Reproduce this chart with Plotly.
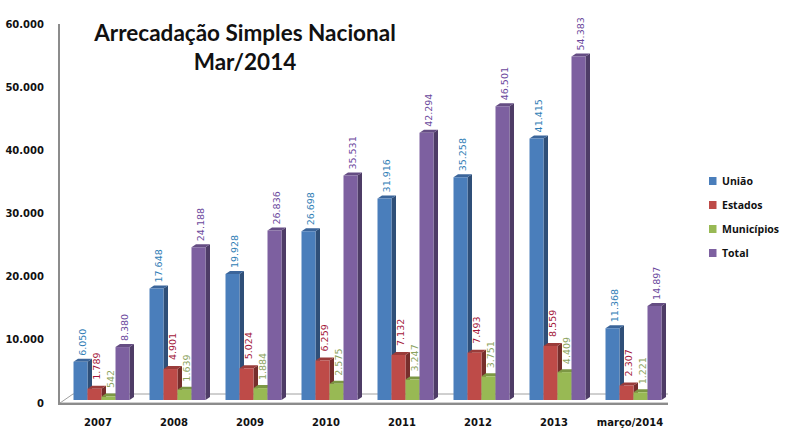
import plotly.graph_objects as go

categories = ["2007", "2008", "2009", "2010", "2011", "2012", "2013", "março/2014"]
uniao = [6050, 17648, 19928, 26698, 31916, 35258, 41415, 11368]
estados = [1789, 4901, 5024, 6259, 7132, 7493, 8559, 2307]
municipios = [542, 1639, 1884, 2575, 3247, 3751, 4409, 1221]
total = [8380, 24188, 26836, 35531, 42294, 46501, 54383, 14897]

series = [
    ("União", uniao, "#4A7EBB", "#3B659A", "#2F4F78", "#2F7DB5", 2),
    ("Estados", estados, "#BE4B48", "#9A3C3A", "#762E2C", "#A3173A", 5),
    ("Municípios", municipios, "#98B954", "#7C9744", "#5F7534", "#8CA35E", 4),
    ("Total", total, "#7D60A0", "#654D83", "#4E3C66", "#6A479C", 2),
]

PX_X = 76.0           # pixels per category
PX_Y = 379 / 60000    # pixels per value unit
BAR = 14 / PX_X
SHIFT_X = 3.5 / PX_X
LIFT = 3 / PX_Y
DX = 4.5 / PX_X
DY = 3 / PX_Y

fig = go.Figure()
shapes = []
annotations = []

# floor
fdx, fdy = 13 / PX_X, 9 / PX_Y
shapes.append(dict(type="path", layer="below", xref="x", yref="y",
                   path=f"M -0.5 0 L 7.5 0 L {7.5+fdx} {fdy} L {-0.5+fdx} {fdy} Z",
                   fillcolor="#FFFFFF", line=dict(color="#A0A0A0", width=1)))

for s, (name, vals, front, top, side, lab, gap) in enumerate(series):
    fig.add_trace(go.Bar(
        x=[i + SHIFT_X for i in range(len(categories))], y=vals, base=LIFT, name=name,
        width=BAR, offset=(s - 2) * BAR, marker=dict(color=front, line=dict(width=0)),
        showlegend=False,
    ))
    for i, v in enumerate(vals):
        x0 = i + SHIFT_X + (s - 2) * BAR
        x1 = x0 + BAR
        yb = LIFT
        yt = v + LIFT
        shapes.append(dict(type="path", layer="below", xref="x", yref="y",
                           path=f"M {x1} {yb} L {x1+DX} {yb+DY} L {x1+DX} {yt+DY} L {x1} {yt} Z",
                           fillcolor=side, line=dict(width=0)))
        shapes.append(dict(type="path", layer="below", xref="x", yref="y",
                           path=f"M {x0} {yt} L {x1} {yt} L {x1+DX} {yt+DY} L {x0+DX} {yt+DY} Z",
                           fillcolor=top, line=dict(width=0)))
        annotations.append(dict(text=f"{v:,}".replace(",", "."), xref="x", yref="y",
                                x=(x0 + x1) / 2, y=yt + DY, xanchor="center", yanchor="bottom",
                                textangle=-90, showarrow=False, xshift=2, yshift=gap, borderpad=0,
                                font=dict(family="DejaVu Sans", size=9.5, color=lab)))

# compact legend: small swatch, tight gap
legend_y = [181, 205, 229, 253]
for (name, vals, front, *_), py in zip(series, legend_y):
    fy = (403 - py) / 379
    shapes.append(dict(type="rect", xref="paper", yref="paper", layer="above",
                       x0=(709 - 60) / 608, x1=(716.5 - 60) / 608,
                       y0=fy - 4 / 379, y1=fy + 4 / 379, fillcolor=front, line=dict(width=0)))
    annotations.append(dict(text=f"<b>{name}</b>", xref="paper", yref="paper",
                            x=(720 - 60) / 608, y=fy, xanchor="left", yanchor="middle", showarrow=False,
                            font=dict(family="Open Sans", size=10.5, color="#111111")))

fig.update_layout(
    width=786, height=436, autosize=False,
    margin=dict(l=60, r=118, t=24, b=33, autoexpand=False),
    paper_bgcolor="white", plot_bgcolor="rgba(0,0,0,0)",
    barmode="overlay", showlegend=False, shapes=shapes, annotations=annotations,
    title=dict(text="<b>Arrecadação Simples Nacional<br>Mar/2014</b>", x=245 / 786, xanchor="center",
               y=1 - 41 / 436, yanchor="top", font=dict(family="Lato", size=22.5, color="#111111")),
    xaxis=dict(range=[-0.5, 7.5], tickvals=list(range(len(categories))), ticktext=categories,
               showgrid=False, zeroline=False, showline=True, linecolor="#8C8C8C", linewidth=2,
               ticks="", ticklabelstandoff=9,
               tickfont=dict(family="DejaVu Sans", size=10, color="#111111", weight="bold")),
    yaxis=dict(range=[0, 60000], tickvals=list(range(0, 60001, 10000)),
               ticktext=["0", "10.000", "20.000", "30.000", "40.000", "50.000", "60.000"],
               showgrid=False, zeroline=False, showline=True, linecolor="#8C8C8C", linewidth=2,
               ticks="", ticklabelstandoff=12,
               tickfont=dict(family="DejaVu Sans", size=10, color="#111111", weight="bold")),
)
fig.write_html("out.html", config=dict(displayModeBar=False),
               post_script="document.body.style.margin='0';document.documentElement.style.overflow='hidden';")
